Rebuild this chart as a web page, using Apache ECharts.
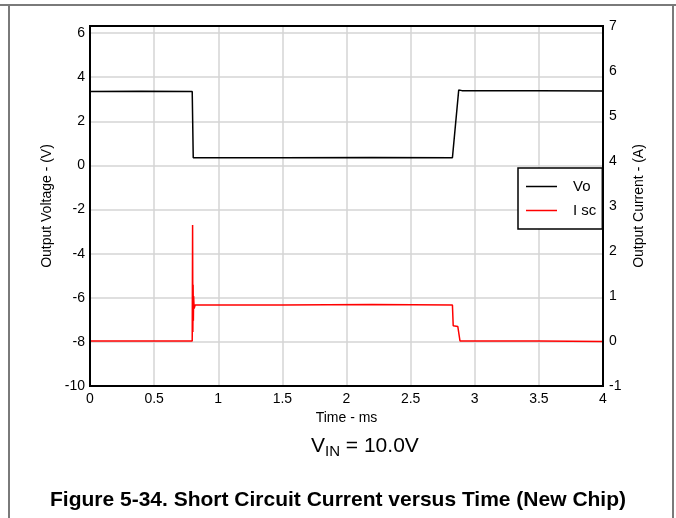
<!DOCTYPE html>
<html>
<head>
<meta charset="utf-8">
<script src="https://cdn.jsdelivr.net/npm/echarts@6/dist/echarts.min.js"></script>
<style>html,body{margin:0;padding:0;background:#fff;}#c{width:676px;height:518px;}</style>
</head>
<body>
<div id="c"></div>
<script>
// Time (ms) and output voltage (V)
var voTime  = [0, 0.40, 0.797, 0.805, 1.50, 2.20, 2.826, 2.875, 2.90, 3.50, 4.00];
var voValue = [3.35, 3.36, 3.35, 0.35, 0.35, 0.36, 0.35, 3.42, 3.39, 3.38, 3.37];
// Time (ms) and short-circuit current (A)
var iscTime  = [0, 0.40, 0.797, 0.800, 0.802, 0.804, 0.806, 0.808, 0.812, 0.82, 1.5, 2.2, 2.826, 2.832, 2.868, 2.885, 3.5, 4.0];
var iscValue = [0.00, 0.00, 0.00, 2.58, 0.20, 1.25, 0.45, 1.00, 0.72, 0.80, 0.80, 0.81, 0.80, 0.34, 0.32, 0.00, 0.00, -0.01];
var xTicks = { min: 0, max: 4, interval: 0.5 };
var leftTicks = { min: -10, max: 6.32, interval: 2 };
var rightTicks = { min: -1, max: 7, interval: 1 };

function pairs(t, v) { return t.map(function (x, i) { return [x, v[i]]; }); }

var font = 'Liberation Sans, Arial, sans-serif';
var chart = echarts.init(document.getElementById('c'));
chart.setOption({
  animation: false,
  backgroundColor: '#fff',
  grid: { left: 90, right: 73, top: 26, bottom: 132, show: true, borderColor: '#000', borderWidth: 2, backgroundColor: 'transparent', z: 5 },
  xAxis: {
    type: 'value', min: xTicks.min, max: xTicks.max, interval: xTicks.interval,
    name: 'Time - ms', nameLocation: 'middle', nameGap: 17,
    nameTextStyle: { color: '#000', fontSize: 14, fontFamily: font },
    axisLine: { show: true, onZero: false, lineStyle: { color: '#000', width: 2 } },
    axisTick: { show: false },
    axisLabel: { color: '#000', fontSize: 14, fontFamily: font, margin: 6 },
    splitLine: { show: true, lineStyle: { color: '#d4d4d4', width: 1.5 } }
  },
  yAxis: [{
    type: 'value', position: 'left', min: leftTicks.min, max: leftTicks.max, interval: leftTicks.interval,
    name: 'Output Voltage - (V)', nameLocation: 'middle', nameGap: 32, nameRotate: 90,
    nameTextStyle: { color: '#000', fontSize: 14, fontFamily: font },
    axisLine: { show: true, onZero: false, lineStyle: { color: '#000', width: 2 } },
    axisTick: { show: false },
    axisLabel: { color: '#000', fontSize: 14, fontFamily: font, margin: 5,
      formatter: function (v) { return Number.isInteger(v) ? String(v) : ''; } },
    splitLine: { show: true, lineStyle: { color: '#d4d4d4', width: 1.5 } }
  }, {
    type: 'value', position: 'right', min: rightTicks.min, max: rightTicks.max, interval: rightTicks.interval,
    name: 'Output Current - (A)', nameLocation: 'middle', nameGap: 26, nameRotate: 90,
    nameTextStyle: { color: '#000', fontSize: 14, fontFamily: font },
    axisLine: { show: true, onZero: false, lineStyle: { color: '#000', width: 2 } },
    axisTick: { show: false },
    axisLabel: { color: '#000', fontSize: 14, fontFamily: font, margin: 6 },
    splitLine: { show: false }
  }],
  legend: {
    orient: 'vertical', left: 518, top: 168,
    backgroundColor: '#fff', borderColor: '#000', borderWidth: 1.5,
    padding: [11, 6, 11, 8], itemGap: 9, itemWidth: 31, itemHeight: 1.5,
    textStyle: { color: '#000', fontSize: 15, fontFamily: font, padding: [0, 0, 0, 11] },
    data: [{ name: 'Vo', icon: 'rect' }, { name: 'I sc', icon: 'rect' }],
    z: 10
  },
  series: [{
    name: 'Vo', type: 'line', yAxisIndex: 0, data: pairs(voTime, voValue),
    showSymbol: false, symbol: 'none', color: '#000', lineStyle: { color: '#000', width: 1.5 }
  }, {
    name: 'I sc', type: 'line', yAxisIndex: 1, data: pairs(iscTime, iscValue),
    showSymbol: false, symbol: 'none', color: '#ff0000', lineStyle: { color: '#ff0000', width: 1.5 }
  }],
  graphic: [
    { type: 'line', shape: { x1: 0, y1: 5, x2: 676, y2: 5 }, style: { stroke: '#7a7a7a', lineWidth: 2 } },
    { type: 'line', shape: { x1: 9, y1: 5, x2: 9, y2: 518 }, style: { stroke: '#7a7a7a', lineWidth: 2 } },
    { type: 'line', shape: { x1: 673, y1: 5, x2: 673, y2: 518 }, style: { stroke: '#7a7a7a', lineWidth: 2 } },
    { type: 'text', left: 311, top: 436,
      style: { text: 'V{sub|IN} = 10.0V', fill: '#000', font: '21px ' + font,
        rich: { sub: { fontSize: 15, fontFamily: font, padding: [10, 0, 0, 0], fill: '#000' } } } },
    { type: 'text', left: 'center', top: 490,
      style: { text: 'Figure 5-34. Short Circuit Current versus Time (New Chip)', fill: '#000', font: 'bold 21px ' + font } }
  ]
});
</script>
</body>
</html>
